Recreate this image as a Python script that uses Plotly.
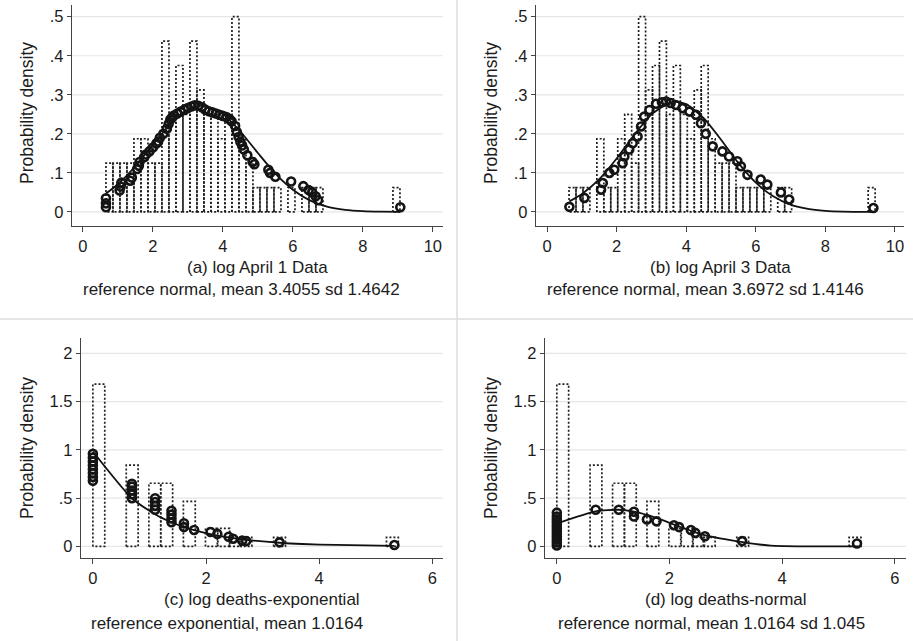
import plotly.graph_objects as go

# ---------------- data ----------------
# (a) log April 1 data
a_bin_start = 0.66
a_bin_width = 0.2
a_bin_heights = [0.125, 0.125, 0.125, 0.125, 0.1875, 0.1875, 0.125, 0.125, 0.4375, 0.25,
                 0.375, 0.25, 0.4375, 0.3125, 0.25, 0.25, 0.1875, 0.25, 0.5, 0.1875,
                 0.125, 0.0625, 0.0625, 0.0625, 0.0625, 0, 0.0625, 0, 0.0625, 0.0625,
                 0.0625, 0, 0, 0, 0, 0, 0, 0, 0, 0, 0, 0.0625]
a_pts_x = [0.66, 0.66, 0.66, 1.05, 1.08, 1.10, 1.35, 1.40, 1.55, 1.60, 1.62, 1.75, 1.80, 1.90,
           2.00, 2.10, 2.15, 2.20, 2.30, 2.40, 2.45, 2.50, 2.55, 2.60, 2.70, 2.80, 2.90, 3.00,
           3.10, 3.20, 3.30, 3.40, 3.50, 3.60, 3.70, 3.80, 3.90, 4.00, 4.10, 4.20, 4.25, 4.35,
           4.40, 4.45, 4.50, 4.55, 4.60, 4.70, 4.85, 4.90, 5.30, 5.35, 5.50, 5.95, 6.30, 6.45,
           6.55, 6.65, 6.72, 9.07]
a_pts_y = [0.012, 0.022, 0.035, 0.055, 0.065, 0.075, 0.08, 0.088, 0.11, 0.118, 0.128, 0.14, 0.147, 0.155,
           0.165, 0.175, 0.18, 0.19, 0.2, 0.213, 0.225, 0.237, 0.242, 0.247, 0.252, 0.257, 0.262, 0.266,
           0.27, 0.273, 0.272, 0.268, 0.262, 0.258, 0.255, 0.252, 0.249, 0.246, 0.243, 0.237, 0.232, 0.22,
           0.205, 0.192, 0.18, 0.17, 0.16, 0.145, 0.128, 0.122, 0.108, 0.1, 0.09, 0.078, 0.066, 0.056,
           0.05, 0.04, 0.03, 0.012]
a_ref_x = [0.66, 1.0, 1.5, 2.0, 2.5, 3.0, 3.4, 4.0, 4.5, 5.0, 5.5, 6.0, 6.5, 7.0, 7.5, 8.0, 8.5, 9.07]
a_ref_y = [0.047, 0.071, 0.117, 0.172, 0.225, 0.262, 0.2725, 0.251, 0.206, 0.151, 0.098, 0.057,
           0.029, 0.013, 0.0055, 0.002, 0.0006, 0.0001]

# (b) log April 3 data
b_bin_start = 0.63
b_bin_width = 0.2
b_bin_heights = [0.0625, 0.0625, 0.0625, 0, 0.1875, 0.0625, 0.0625, 0.1875, 0.25, 0.125,
                 0.5, 0.3125, 0.375, 0.4375, 0.25, 0.375, 0.25, 0.1875, 0.3125, 0.375,
                 0.1875, 0.125, 0.125, 0.125, 0.0625, 0.0625, 0.0625, 0.0625, 0.0625, 0,
                 0.0625, 0.0625, 0, 0, 0, 0, 0, 0, 0, 0, 0, 0, 0, 0.0625]
b_pts_x = [0.64, 1.07, 1.55, 1.60, 1.79, 1.93, 2.17, 2.22, 2.36, 2.46, 2.60, 2.70, 2.79, 2.94,
           3.13, 3.30, 3.42, 3.55, 3.70, 3.89, 4.09, 4.28, 4.42, 4.56, 4.76, 5.04, 5.23, 5.47,
           5.57, 5.76, 6.14, 6.33, 6.72, 6.96, 9.38]
b_pts_y = [0.013, 0.036, 0.057, 0.074, 0.1, 0.108, 0.125, 0.142, 0.16, 0.176, 0.193, 0.219, 0.244, 0.261,
           0.277, 0.281, 0.283, 0.279, 0.274, 0.266, 0.257, 0.249, 0.227, 0.2, 0.168, 0.155, 0.142, 0.13,
           0.117, 0.095, 0.083, 0.07, 0.05, 0.032, 0.01]
b_ref_x = [0.64, 1.0, 1.5, 2.0, 2.5, 3.0, 3.5, 3.7, 4.0, 4.5, 5.0, 5.5, 6.0, 6.5, 7.0, 7.5, 8.0, 8.5, 9.38]
b_ref_y = [0.027, 0.046, 0.084, 0.137, 0.197, 0.25, 0.279, 0.282, 0.276, 0.24, 0.185, 0.125, 0.075,
           0.04, 0.0185, 0.0076, 0.0028, 0.0009, 0.0001]

# (c)/(d) log deaths (same histogram)
d_bin_centers = [0.105, 0.695, 1.095, 1.305, 1.705, 2.095, 2.315, 2.515, 2.705, 3.30, 5.295]
d_bin_width = 0.21
d_bin_heights = [1.683, 0.8415, 0.6545, 0.6545, 0.4675, 0.187, 0.187, 0.0935, 0.0935, 0.0935, 0.0935]

c_pts_x = [0, 0, 0, 0, 0, 0, 0, 0, 0.69, 0.69, 0.69, 0.69, 0.69, 1.10, 1.10, 1.10, 1.10,
           1.39, 1.39, 1.39, 1.39, 1.61, 1.61, 1.79, 2.08, 2.20, 2.40, 2.48, 2.64, 2.71, 3.30, 5.33]
c_pts_y = [0.68, 0.72, 0.76, 0.80, 0.84, 0.88, 0.92, 0.96, 0.50, 0.54, 0.58, 0.62, 0.65, 0.38, 0.42,
           0.46, 0.50, 0.25, 0.29, 0.33, 0.37, 0.20, 0.24, 0.17, 0.15, 0.13, 0.10, 0.08, 0.06, 0.055,
           0.042, 0.014]
c_ref_x = [0, 0.69, 1.10, 1.39, 1.61, 1.79, 2.08, 2.20, 2.40, 2.64, 3.30, 3.70, 4.30, 5.33]
c_ref_y = [0.984, 0.499, 0.334, 0.25, 0.201, 0.169, 0.127, 0.113, 0.093, 0.073, 0.038, 0.025,
           0.015, 0.006]

e_pts_x = [0, 0, 0, 0, 0, 0, 0, 0, 0, 0, 0, 0, 0.69, 1.10, 1.37, 1.37, 1.60, 1.77, 2.08, 2.17,
           2.38, 2.46, 2.63, 3.29, 5.33]
e_pts_y = [0.01, 0.04, 0.07, 0.10, 0.13, 0.16, 0.19, 0.22, 0.25, 0.28, 0.31, 0.35, 0.38, 0.38,
           0.31, 0.36, 0.28, 0.26, 0.22, 0.20, 0.17, 0.14, 0.105, 0.055, 0.03]
e_ref_x = [0, 0.69, 1.10, 1.39, 1.61, 1.79, 2.08, 2.20, 2.40, 2.64, 3.30, 3.80, 4.30, 5.33]
e_ref_y = [0.238, 0.364, 0.380, 0.358, 0.325, 0.290, 0.227, 0.201, 0.159, 0.114, 0.045, 0.008,
           0.001, 0.0]

a_title = ["(a) log April 1 Data", "reference normal, mean 3.4055 sd 1.4642"]
b_title = ["(b) log April 3 Data", "reference normal, mean 3.6972 sd 1.4146"]
c_title = ["(c) log deaths-exponential", "reference exponential, mean 1.0164"]
d_title = ["(d) log deaths-normal", "reference normal, mean 1.0164 sd 1.045"]
y_title = "Probability density"

ab_yticks = [0, 0.1, 0.2, 0.3, 0.4, 0.5]
ab_yticklabels = ["0", ".1", ".2", ".3", ".4", ".5"]
ab_xticks = [0, 2, 4, 6, 8, 10]
cd_yticks = [0, 0.5, 1, 1.5, 2]
cd_yticklabels = ["0", ".5", "1", "1.5", "2"]
cd_xticks = [0, 2, 4, 6]

# ---------------- figure ----------------
FONT = "Liberation Sans, Arial, sans-serif"
INK = "#1c1c1c"
fig = go.Figure()


def outline(centers, heights, width):
    xs, ys = [], []
    for c, h in zip(centers, heights):
        if h <= 0:
            continue
        l, r = c - width / 2, c + width / 2
        xs += [l, l, r, r, l, None]
        ys += [0, h, h, 0, 0, None]
    return xs, ys


def add_panel(n, centers, heights, width, px, py, rx, ry):
    xa = "x" if n == 1 else f"x{n}"
    ya = "y" if n == 1 else f"y{n}"
    hx, hy = outline(centers, heights, width)
    fig.add_trace(go.Scatter(x=hx, y=hy, mode="lines", xaxis=xa, yaxis=ya,
                             line=dict(color="#1e1e1e", width=1.7, dash="2px,2px"),
                             showlegend=False, hoverinfo="skip"))
    fig.add_trace(go.Scatter(x=rx, y=ry, mode="lines", xaxis=xa, yaxis=ya,
                             line=dict(color="#111", width=1.8, shape="spline", smoothing=0.6),
                             showlegend=False))
    fig.add_trace(go.Scatter(x=px, y=py, mode="markers", xaxis=xa, yaxis=ya,
                             marker=dict(symbol="circle-open", size=8, color="#141414",
                                         line=dict(width=2.6, color="#141414")),
                             showlegend=False))


a_centers = [a_bin_start + a_bin_width * (k + 0.5) for k in range(len(a_bin_heights))]
b_centers = [b_bin_start + b_bin_width * (k + 0.5) for k in range(len(b_bin_heights))]

add_panel(1, a_centers, a_bin_heights, a_bin_width, a_pts_x, a_pts_y, a_ref_x, a_ref_y)
add_panel(2, b_centers, b_bin_heights, b_bin_width, b_pts_x, b_pts_y, b_ref_x, b_ref_y)
add_panel(3, d_bin_centers, d_bin_heights, d_bin_width, c_pts_x, c_pts_y, c_ref_x, c_ref_y)
add_panel(4, d_bin_centers, d_bin_heights, d_bin_width, e_pts_x, e_pts_y, e_ref_x, e_ref_y)

W, H = 913, 641


def px_x(p):
    return p / W


def px_y(p):
    return 1 - p / H


axis_common = dict(showline=True, linecolor="#444", linewidth=1.4, ticks="outside",
                   ticklen=5, tickwidth=1.2, tickcolor="#444", showgrid=False, zeroline=False,
                   tickfont=dict(family=FONT, size=16.5, color=INK), fixedrange=True)

panels = {
    1: dict(dx=[72, 443], dy=[5, 226], xr=[-0.31, 10.29], yr=[-0.036, 0.53],
            xt=ab_xticks, yt=ab_yticks, ytl=ab_yticklabels),
    2: dict(dx=[536, 904], dy=[5, 226], xr=[-0.32, 10.26], yr=[-0.036, 0.53],
            xt=ab_xticks, yt=ab_yticks, ytl=ab_yticklabels),
    3: dict(dx=[81, 443], dy=[338, 558], xr=[-0.21, 6.19], yr=[-0.12, 2.16],
            xt=cd_xticks, yt=cd_yticks, ytl=cd_yticklabels),
    4: dict(dx=[545, 906], dy=[338, 558], xr=[-0.21, 6.2], yr=[-0.12, 2.16],
            xt=cd_xticks, yt=cd_yticks, ytl=cd_yticklabels),
}

layout_axes = {}
shapes = []
for n, p in panels.items():
    xk = "xaxis" if n == 1 else f"xaxis{n}"
    yk = "yaxis" if n == 1 else f"yaxis{n}"
    xa = "x" if n == 1 else f"x{n}"
    ya = "y" if n == 1 else f"y{n}"
    layout_axes[xk] = dict(axis_common, domain=[px_x(p["dx"][0]), px_x(p["dx"][1])],
                           range=p["xr"], tickvals=p["xt"], anchor=ya, ticklen=5)
    layout_axes[yk] = dict(axis_common, domain=[px_y(p["dy"][1]), px_y(p["dy"][0])],
                           range=p["yr"], tickvals=p["yt"], ticktext=p["ytl"], anchor=xa,
                           ticklen=4)
    for v in p["yt"]:
        if v >= p["yr"][1] * 0.95:
            continue
        shapes.append(dict(type="line", xref=f"{xa} domain", yref=ya, x0=0, x1=1, y0=v, y1=v,
                           line=dict(color="#e6e6e6", width=1.2), layer="below"))

# panel separators
shapes.append(dict(type="line", xref="paper", yref="paper", x0=0, x1=1,
                   y0=px_y(319), y1=px_y(319), line=dict(color="#dcdcdc", width=1.5)))
shapes.append(dict(type="line", xref="paper", yref="paper", x0=px_x(457), x1=px_x(457),
                   y0=0, y1=1, line=dict(color="#dcdcdc", width=1.5)))

annotations = []


def label(text, x, y, angle=0, size=17):
    annotations.append(dict(text=text, x=px_x(x), y=px_y(y), xref="paper", yref="paper",
                            showarrow=False, textangle=angle, xanchor="center", yanchor="middle",
                            font=dict(family=FONT, size=size, color=INK)))


label(a_title[0], 257, 267)
label(a_title[1], 241, 290)
label(b_title[0], 720, 267)
label(b_title[1], 705, 290)
label(c_title[0], 262, 599)
label(c_title[1], 227, 623)
label(d_title[0], 726, 599)
label(d_title[1], 711, 623)
label(y_title, 27, 113, -90, 17.5)
label(y_title, 491, 113, -90, 17.5)
label(y_title, 27, 448, -90, 17.5)
label(y_title, 491, 448, -90, 17.5)

fig.update_layout(width=W, height=H, margin=dict(l=0, r=0, t=0, b=0),
                  paper_bgcolor="white", plot_bgcolor="white",
                  shapes=shapes, annotations=annotations, showlegend=False,
                  **layout_axes)

fig.write_html("out.html", config={"displayModeBar": False},
               post_script="document.body.style.margin='0';document.body.style.overflow='hidden';")
